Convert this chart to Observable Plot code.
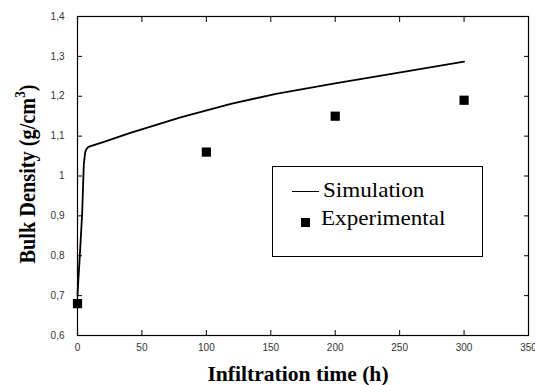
<!DOCTYPE html>
<html>
<head>
<meta charset="utf-8">
<script src="https://cdn.jsdelivr.net/npm/d3@7"></script>
<script src="https://cdn.jsdelivr.net/npm/@observablehq/plot@0.6"></script>
<style>
  body { margin: 0; background: #fff; }
  #wrap { position: relative; width: 535px; height: 385px; overflow: hidden; }
  .lbl { position: absolute; font-family: "Liberation Serif", "Times New Roman", serif; font-weight: bold; font-size: 20px; color: #000; white-space: nowrap; line-height: 1; }
  .lbl sup { font-size: 13px; vertical-align: 9px; line-height: 0; }
  #legend { position: absolute; left: 272px; top: 166px; width: 209px; height: 89px; border: 1.5px solid #000; background: #fff;
            font-family: "Liberation Serif", "Times New Roman", serif; font-size: 21px; color: #000; }
  .item { position: absolute; white-space: nowrap; }
  .txt { transform: scaleX(1.1); transform-origin: 0 0; }
</style>
</head>
<body>
<div id="wrap"></div>
<script>
// Simulation curve (hours, g/cm3)
const simTime  = [0, 0.5, 1.8, 3.6, 4.9, 6, 7, 8.5, 12, 20, 41, 80, 119, 154, 201, 253, 300];
const simValue = [0.70, 0.73, 0.80, 0.905, 1.03, 1.06, 1.068, 1.073, 1.077, 1.085, 1.108, 1.147, 1.181, 1.206, 1.233, 1.261, 1.287];
// Experimental points
const expTime  = [0, 100, 200, 300];
const expValue = [0.68, 1.06, 1.15, 1.19];
// Ticks
const xTicks = [0, 50, 100, 150, 200, 250, 300, 350];
const yTicks = [0.6, 0.7, 0.8, 0.9, 1.0, 1.1, 1.2, 1.3, 1.4];
const yTickLabels = ["0,6", "0,7", "0,8", "0,9", "1", "1,1", "1,2", "1,3", "1,4"];
const xLabel = "Infiltration time (h)";
const yLabelHTML = "Bulk Density (g/cm<sup>3</sup>)";
const seriesNames = ["Simulation", "Experimental"];

const sim = simTime.map((t, i) => ({t, v: simValue[i]}));
const exp = expTime.map((t, i) => ({t, v: expValue[i]}));
const yFmt = d => yTickLabels[yTicks.findIndex(y => Math.abs(y - d) < 1e-9)];

const chart = Plot.plot({
  width: 535,
  height: 385,
  marginLeft: 77,
  marginRight: 7,
  marginTop: 16,
  marginBottom: 50,
  style: {fontFamily: "'Liberation Sans', Arial, sans-serif", fontSize: "10px", background: "#fff", color: "#000"},
  x: {domain: [0, 350]},
  y: {domain: [0.6, 1.4]},
  marks: [
    Plot.axisX({anchor: "bottom", ticks: xTicks, tickSize: -5, tickPadding: 13, label: null, fill: "#333", stroke: "#000"}),
    Plot.axisX({anchor: "top", ticks: xTicks, tickSize: -5, tickFormat: () => "", label: null, stroke: "#000"}),
    Plot.axisY({anchor: "left", ticks: yTicks, tickSize: -5, tickPadding: 18, tickFormat: yFmt, label: null, fill: "#333", stroke: "#000"}),
    Plot.axisY({anchor: "right", ticks: yTicks, tickSize: -5, tickFormat: () => "", label: null, stroke: "#000"}),
    Plot.frame({stroke: "#000", strokeWidth: 1.2}),
    Plot.line(sim, {x: "t", y: "v", stroke: "#000", strokeWidth: 1.8, curve: "linear"}),
    Plot.dot(exp, {x: "t", y: "v", symbol: "square", r: 5.2, fill: "#000", stroke: "none"})
  ]
});

const wrap = document.getElementById("wrap");
wrap.appendChild(chart);

// axis titles
const xl = document.createElement("div");
xl.className = "lbl";
xl.textContent = xLabel;
xl.style.left = "298px"; xl.style.top = "364px"; xl.style.transform = "translateX(-50%) scaleX(1.08)";
wrap.appendChild(xl);

const yl = document.createElement("div");
yl.className = "lbl";
yl.innerHTML = yLabelHTML;
yl.style.fontSize = "20.3px";
yl.style.left = "27px"; yl.style.top = "174px";
yl.style.transform = "translate(-50%, -50%) rotate(-90deg) scaleY(1.1)";
wrap.appendChild(yl);

// legend
const lg = document.createElement("div");
lg.id = "legend";
lg.innerHTML =
  `<div class="item" style="left:19px; top:24px; width:27px; height:0; border-top:1.5px solid #000"></div>` +
  `<div class="item txt" style="left:50px; top:11px">${seriesNames[0]}</div>` +
  `<div class="item" style="left:28px; top:51px; width:9px; height:9px; background:#000"></div>` +
  `<div class="item txt" style="left:48px; top:39px">${seriesNames[1]}</div>`;
wrap.appendChild(lg);
</script>
</body>
</html>
